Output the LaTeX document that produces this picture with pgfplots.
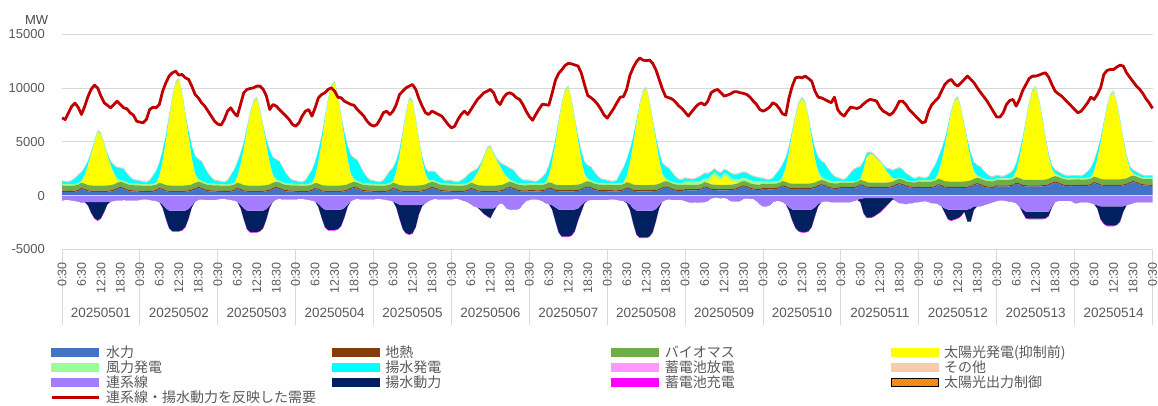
\documentclass[border=0pt]{standalone}
\usepackage{pgfplots}
\pgfplotsset{compat=1.18}
\usepackage{pgfplotstable}
\usepackage{graphicx}
\usepackage{fontspec}
\setmainfont{Liberation Sans}
\newfontfamily\jp{Noto Sans CJK JP}
\usetikzlibrary{patterns}

\definecolor{chy}{HTML}{4472C4}
\definecolor{cge}{HTML}{843C0C}
\definecolor{cbi}{HTML}{70AD47}
\definecolor{cso}{HTML}{FFFF00}
\definecolor{cwi}{HTML}{99FF99}
\definecolor{cpu}{HTML}{00FFFF}
\definecolor{cba}{HTML}{FF99FF}
\definecolor{cot}{HTML}{F8CBAD}
\definecolor{cti}{HTML}{A47DFF}
\definecolor{cus}{HTML}{002060}
\definecolor{cch}{HTML}{FF00FF}
\definecolor{ccu}{HTML}{FFA020}
\definecolor{ccu2}{HTML}{F06000}
\definecolor{cde}{HTML}{C00000}
\definecolor{gridc}{HTML}{D9D9D9}
\definecolor{tickc}{HTML}{595959}

\pgfplotstableread{
hy ge bi so wi pu ot ti us ch
350 110 480 0 150 250 100 -450 0 0
340 110 480 0 150 180 100 -400 0 0
330 110 480 0 150 150 100 -400 0 0
330 110 480 0 150 300 100 -450 0 0
350 110 480 0 150 480 100 -500 0 0
420 110 480 0 150 720 100 -550 0 0
600 110 480 0 150 800 100 -650 0 0
520 110 480 700 150 640 100 -600 0 0
380 110 480 1700 150 360 100 -600 -300 -50
350 110 480 2800 150 160 100 -600 -1000 -60
340 110 480 3900 150 80 100 -600 -1500 -60
340 110 480 4900 150 30 100 -600 -1700 -60
340 110 480 4700 150 20 100 -600 -1500 -60
340 110 480 3700 150 40 100 -600 -900 -60
350 110 480 2700 150 100 100 -600 -200 -40
380 110 480 1700 150 330 100 -550 0 0
450 110 480 900 150 720 100 -500 0 0
600 110 480 250 150 990 100 -450 0 0
700 110 480 0 150 1100 100 -450 0 0
620 110 480 0 150 1100 100 -400 0 0
480 110 480 0 150 820 100 -450 0 0
400 110 480 0 150 550 100 -450 0 0
370 110 480 0 150 330 100 -450 0 0
360 110 480 0 150 300 100 -450 0 0
350 110 480 0 150 250 100 -400 0 0
340 110 480 0 150 180 100 -350 0 0
330 110 480 0 150 150 100 -350 0 0
330 110 480 0 150 300 100 -400 0 0
350 110 480 0 150 720 100 -450 0 0
420 110 480 0 150 1080 100 -500 0 0
600 110 480 490 150 1200 100 -600 0 0
520 110 480 1960 150 960 100 -840 -290 -30
380 110 480 3920 150 540 100 -1190 -950 -60
350 110 480 6080 150 240 100 -1400 -1620 -60
340 110 480 8040 150 80 100 -1400 -1900 -60
340 110 480 9410 150 30 100 -1400 -1900 -60
340 110 480 9800 150 20 100 -1400 -1900 -60
340 110 480 8430 150 40 100 -1400 -1810 -60
350 110 480 6470 150 100 100 -1400 -1520 -60
380 110 480 4310 150 540 100 -1260 -860 -60
450 110 480 2250 150 1170 100 -910 -190 -30
600 110 480 690 150 1620 100 -560 0 0
700 110 480 100 150 1800 100 -400 0 0
620 110 480 0 150 1800 100 -350 0 0
480 110 480 0 150 1350 100 -400 0 0
400 110 480 0 150 900 100 -400 0 0
370 110 480 0 150 540 100 -400 0 0
360 110 480 0 150 300 100 -400 0 0
350 110 480 0 150 250 100 -350 0 0
340 110 480 0 150 180 100 -300 0 0
330 110 480 0 150 150 100 -300 0 0
330 110 480 0 150 300 100 -350 0 0
350 110 480 0 150 780 100 -400 0 0
420 110 480 0 150 1170 100 -450 0 0
600 110 480 400 150 1300 100 -550 0 0
520 110 480 1600 150 1040 100 -840 -300 -30
380 110 480 3200 150 590 100 -1190 -1000 -60
350 110 480 4960 150 260 100 -1400 -1700 -60
340 110 480 6560 150 80 100 -1400 -2000 -60
340 110 480 7680 150 30 100 -1400 -2000 -60
340 110 480 8000 150 20 100 -1400 -2000 -60
340 110 480 6880 150 40 100 -1400 -1900 -60
350 110 480 5280 150 100 100 -1400 -1600 -60
380 110 480 3520 150 540 100 -1260 -900 -60
450 110 480 1840 150 1170 100 -910 -200 -30
600 110 480 560 150 1620 100 -560 0 0
700 110 480 80 150 1800 100 -350 0 0
620 110 480 0 150 1800 100 -300 0 0
480 110 480 0 150 1350 100 -350 0 0
400 110 480 0 150 900 100 -350 0 0
370 110 480 0 150 540 100 -350 0 0
360 110 480 0 150 300 100 -350 0 0
350 110 480 0 150 250 100 -350 0 0
340 110 480 0 150 180 100 -300 0 0
330 110 480 0 150 150 100 -300 0 0
330 110 480 0 150 300 100 -350 0 0
350 110 480 0 150 780 100 -400 0 0
420 110 480 0 150 1170 100 -450 0 0
600 110 480 480 150 1300 100 -550 0 0
520 110 480 1900 150 1040 100 -780 -290 -30
380 110 480 3800 150 590 100 -1100 -950 -60
350 110 480 5890 150 260 100 -1300 -1620 -60
340 110 480 7790 150 80 100 -1300 -1900 -60
340 110 480 9120 150 30 100 -1300 -1900 -60
340 110 480 9500 150 20 100 -1300 -1900 -60
340 110 480 8170 150 40 100 -1300 -1810 -60
350 110 480 6270 150 100 100 -1300 -1520 -60
380 110 480 4180 150 570 100 -1170 -860 -60
450 110 480 2190 150 1240 100 -850 -190 -30
600 110 480 670 150 1710 100 -520 0 0
700 110 480 100 150 1900 100 -350 0 0
620 110 480 0 150 1900 100 -300 0 0
480 110 480 0 150 1430 100 -350 0 0
400 110 480 0 150 950 100 -350 0 0
370 110 480 0 150 570 100 -350 0 0
360 110 480 0 150 300 100 -350 0 0
350 110 480 0 150 250 100 -350 0 0
340 110 480 0 150 180 100 -300 0 0
330 110 480 0 150 150 100 -300 0 0
330 110 480 0 150 300 100 -350 0 0
350 110 480 0 150 720 100 -400 0 0
420 110 480 0 150 1080 100 -450 0 0
600 110 480 0 150 1200 100 -550 0 0
520 110 480 1000 150 960 100 -700 -400 -30
380 110 480 2600 150 540 100 -850 -1300 -60
350 110 480 4600 150 240 100 -900 -2200 -60
340 110 480 6500 150 80 100 -900 -2600 -60
340 110 480 8000 150 30 100 -900 -2700 -60
340 110 480 7700 150 20 100 -900 -2600 -60
340 110 480 6000 150 40 100 -900 -2000 -60
350 110 480 4000 150 100 100 -900 -800 -60
380 110 480 2200 150 240 100 -850 -100 -30
450 110 480 800 150 520 100 -700 0 0
600 110 480 100 150 720 100 -500 0 0
700 110 480 0 150 800 100 -350 0 0
620 110 480 0 150 800 100 -300 0 0
480 110 480 0 150 600 100 -350 0 0
400 110 480 0 150 400 100 -350 0 0
370 110 480 0 150 240 100 -350 0 0
360 110 480 0 150 300 100 -350 0 0
350 110 480 0 150 250 100 -350 0 0
340 110 480 0 150 180 100 -300 0 0
330 110 480 0 150 150 100 -300 0 0
330 110 480 0 150 300 100 -400 0 0
350 110 480 0 150 480 100 -500 0 0
420 110 480 0 150 720 100 -600 0 0
600 110 480 0 150 800 100 -800 0 0
520 110 480 400 150 640 100 -1000 0 0
380 110 480 1000 150 360 100 -1100 0 0
350 110 480 1700 150 160 100 -1200 -200 0
340 110 480 2500 150 80 100 -1200 -500 -40
340 110 480 3300 150 30 100 -1200 -700 -40
340 110 480 3500 150 20 100 -1200 -900 -40
340 110 480 2800 150 40 100 -1200 -300 0
350 110 480 2200 150 100 100 -1000 0 0
380 110 480 1600 150 300 100 -700 0 0
450 110 480 1000 150 650 100 -800 0 0
600 110 480 450 150 900 100 -1200 0 0
700 110 480 50 150 1000 100 -1300 0 0
620 110 480 0 150 1000 100 -1300 0 0
480 110 480 0 150 750 100 -1300 0 0
400 110 480 0 150 500 100 -1200 0 0
370 110 480 0 150 300 100 -800 0 0
360 110 480 0 150 300 100 -500 0 0
400 110 480 0 150 250 100 -400 0 0
390 110 480 0 150 180 100 -350 0 0
380 110 480 0 150 150 100 -350 0 0
380 110 480 0 150 300 100 -400 0 0
400 110 480 0 150 540 100 -500 0 0
470 110 480 0 150 810 100 -700 0 0
650 110 480 450 150 900 100 -800 0 0
570 110 480 1800 150 720 100 -900 -380 -30
430 110 480 3600 150 410 100 -1100 -1250 -60
400 110 480 5580 150 180 100 -1300 -2100 -60
390 110 480 7380 150 80 100 -1300 -2500 -60
390 110 480 8640 150 30 100 -1300 -2500 -60
390 110 480 9000 150 20 100 -1300 -2500 -60
390 110 480 7740 150 40 100 -1300 -2400 -60
400 110 480 5940 150 100 100 -1300 -2000 -60
430 110 480 3960 150 360 100 -1200 -1100 -60
500 110 480 2070 150 780 100 -900 -600 -60
650 110 480 630 150 1080 100 -600 -100 -30
750 110 480 90 150 1200 100 -450 0 0
670 110 480 0 150 1200 100 -400 0 0
530 110 480 0 150 900 100 -400 0 0
450 110 480 0 150 600 100 -400 0 0
420 110 480 0 150 360 100 -400 0 0
410 110 480 0 150 300 100 -400 0 0
400 110 480 0 150 250 100 -400 0 0
390 110 480 0 150 180 100 -350 0 0
380 110 480 0 150 150 100 -350 0 0
380 110 480 0 150 300 100 -400 0 0
400 110 480 0 150 900 100 -450 0 0
470 110 480 0 150 1350 100 -500 0 0
650 110 480 450 150 1500 100 -600 -100 0
570 110 480 1780 150 1200 100 -840 -500 -30
430 110 480 3560 150 680 100 -1190 -1400 -60
400 110 480 5520 150 300 100 -1400 -2200 -60
390 110 480 7300 150 80 100 -1400 -2500 -60
390 110 480 8540 150 30 100 -1400 -2500 -60
390 110 480 8900 150 20 100 -1400 -2500 -60
390 110 480 7650 150 40 100 -1400 -2400 -60
400 110 480 5870 150 100 100 -1400 -2000 -60
430 110 480 3920 150 330 100 -1260 -1100 -60
500 110 480 2050 150 720 100 -910 -250 -30
650 110 480 620 150 990 100 -560 0 0
750 110 480 90 150 1100 100 -400 0 0
670 110 480 0 150 1100 100 -350 0 0
530 110 480 0 150 830 100 -400 0 0
450 110 480 0 150 550 100 -400 0 0
420 110 480 0 150 330 100 -400 0 0
410 110 480 0 150 300 100 -400 0 0
500 110 400 0 300 300 100 -500 0 0
490 110 400 0 300 250 100 -600 0 0
480 110 400 0 300 200 100 -650 0 0
480 110 400 0 300 250 100 -600 0 0
500 110 400 0 300 350 100 -650 0 0
570 110 400 0 300 450 100 -600 0 0
750 110 400 0 300 500 100 -600 0 0
670 110 400 100 300 450 100 -500 0 0
530 110 400 500 300 350 100 -250 0 0
500 110 400 900 300 250 100 -200 0 0
490 110 400 600 300 300 100 -200 0 0
490 110 400 400 300 400 100 -250 0 0
490 110 400 800 300 300 100 -200 0 0
490 110 400 700 300 300 100 -300 0 0
500 110 400 400 300 350 100 -500 0 0
530 110 400 200 300 400 100 -550 0 0
600 110 400 100 300 450 100 -550 0 0
750 110 400 0 300 500 100 -500 0 0
850 110 400 0 300 500 100 -300 0 0
770 110 400 0 300 500 100 -250 0 0
630 110 400 0 300 450 100 -300 0 0
550 110 400 0 300 400 100 -300 0 0
520 110 400 0 300 350 100 -500 0 0
510 110 400 0 300 300 100 -800 0 0
600 110 400 0 200 250 100 -1000 0 0
590 110 400 0 200 180 100 -1000 0 0
580 110 400 0 200 150 100 -900 0 0
580 110 400 0 200 300 100 -600 0 0
600 110 400 0 200 660 100 -500 0 0
670 110 400 0 200 990 100 -500 0 0
850 110 400 200 200 1100 100 -600 0 0
770 110 400 1150 200 880 100 -800 0 0
630 110 400 2700 200 500 100 -1100 -300 -30
600 110 400 4500 200 220 100 -1300 -1000 -60
590 110 400 6100 200 80 100 -1300 -1700 -60
590 110 400 7300 200 30 100 -1300 -2000 -60
590 110 400 7800 200 20 100 -1300 -2100 -60
590 110 400 7300 200 40 100 -1300 -2100 -60
600 110 400 5900 200 100 100 -1300 -2000 -60
630 110 400 3900 200 420 100 -1300 -1600 -60
700 110 400 2000 200 910 100 -1100 -800 -60
850 110 400 700 200 1260 100 -800 -200 -30
950 110 400 100 200 1400 100 -600 0 0
870 110 400 0 200 1400 100 -550 0 0
730 110 400 0 200 1050 100 -550 0 0
650 110 400 0 200 700 100 -600 0 0
620 110 400 0 200 420 100 -600 0 0
610 110 400 0 200 300 100 -600 0 0
700 110 400 0 100 200 100 -600 0 0
690 110 400 0 100 150 100 -600 0 0
680 110 400 0 100 400 100 -600 0 0
680 110 400 0 100 800 100 -600 0 0
700 110 400 0 100 1100 100 -500 0 0
770 110 400 0 100 1200 100 -400 0 0
950 110 400 0 100 1100 100 -300 -300 -30
870 110 400 1000 100 700 100 -250 -1400 -60
730 110 400 2300 100 300 100 -250 -1800 -60
700 110 400 2600 100 100 100 -250 -1800 -60
690 110 400 2500 100 50 100 -250 -1700 -60
690 110 400 2200 100 30 100 -250 -1500 -60
690 110 400 1900 100 30 100 -250 -1300 -60
690 110 400 1500 100 50 100 -250 -1000 -60
700 110 400 1000 100 200 100 -250 -700 -60
730 110 400 600 100 500 100 -250 -400 -30
800 110 400 200 100 700 100 -250 -100 0
950 110 400 0 100 900 100 -500 0 0
1050 110 400 0 100 900 100 -700 0 0
970 110 400 0 100 800 100 -700 0 0
830 110 400 0 100 600 100 -800 0 0
750 110 400 0 100 500 100 -700 0 0
720 110 400 0 100 300 100 -700 0 0
710 110 400 0 100 250 100 -600 0 0
700 110 500 0 150 250 100 -600 0 0
690 110 500 0 150 180 100 -550 0 0
680 110 500 0 150 150 100 -500 0 0
680 110 500 0 150 300 100 -600 0 0
700 110 500 0 150 840 100 -700 0 0
770 110 500 0 150 1260 100 -700 0 0
950 110 500 390 150 1400 100 -800 0 0
870 110 500 1540 150 1120 100 -1000 0 0
730 110 500 3080 150 630 100 -1200 -400 -30
700 110 500 4770 150 280 100 -1300 -900 -60
690 110 500 6310 150 80 100 -1300 -1000 -60
690 110 500 7390 150 30 100 -1300 -900 -60
690 110 500 7700 150 20 100 -1300 -800 -60
690 110 500 6620 150 40 100 -1300 -600 -60
700 110 500 5080 150 100 100 -1300 -200 -30
730 110 500 3390 150 270 100 -1300 -1100 -60
800 110 500 1770 150 590 100 -1200 -1200 -60
950 110 500 540 150 810 100 -1000 -300 -30
1050 110 500 80 150 900 100 -1000 0 0
970 110 500 0 150 900 100 -1000 0 0
830 110 500 0 150 680 100 -900 0 0
750 110 500 0 150 450 100 -800 0 0
720 110 500 0 150 270 100 -700 0 0
710 110 500 0 150 250 100 -600 0 0
850 110 500 0 150 250 100 -500 0 0
840 110 500 0 150 180 100 -450 0 0
830 110 500 0 150 150 100 -450 0 0
830 110 500 0 150 300 100 -500 0 0
850 110 500 0 150 420 100 -550 0 0
920 110 500 0 150 630 100 -600 0 0
1100 110 500 430 150 700 100 -700 0 0
1020 110 500 1700 150 560 100 -1000 0 0
880 110 500 3400 150 320 100 -1300 -300 -30
850 110 500 5270 150 140 100 -1500 -600 -60
840 110 500 6970 150 80 100 -1500 -650 -60
840 110 500 8160 150 30 100 -1500 -650 -60
840 110 500 8500 150 20 100 -1500 -650 -60
840 110 500 7310 150 40 100 -1500 -650 -60
850 110 500 5610 150 100 100 -1500 -650 -60
880 110 500 3740 150 100 100 -1500 -600 -60
950 110 500 1960 150 200 100 -1500 -400 -30
1100 110 500 600 150 300 100 -1000 -100 0
1200 110 500 90 150 300 100 -600 0 0
1120 110 500 0 150 300 100 -500 0 0
980 110 500 0 150 250 100 -500 0 0
900 110 500 0 150 200 100 -500 0 0
870 110 500 0 150 150 100 -500 0 0
860 110 500 0 150 200 100 -500 0 0
900 110 500 0 150 150 100 -700 0 0
890 110 500 0 150 150 100 -700 0 0
880 110 500 0 150 150 100 -600 0 0
880 110 500 0 150 300 100 -600 0 0
900 110 500 0 150 540 100 -600 0 0
970 110 500 0 150 810 100 -700 0 0
1150 110 500 400 150 900 100 -800 0 0
1070 110 500 1600 150 720 100 -900 -300 -30
930 110 500 3200 150 410 100 -1000 -1200 -60
900 110 500 4960 150 180 100 -1000 -1600 -60
890 110 500 6560 150 80 100 -1000 -1800 -60
890 110 500 7680 150 30 100 -1000 -1800 -60
890 110 500 8000 150 20 100 -1000 -1800 -60
890 110 500 6880 150 40 100 -1000 -1700 -60
900 110 500 5280 150 100 100 -1000 -1400 -60
930 110 500 3520 150 80 100 -1000 -500 -30
1000 110 500 1840 150 150 100 -900 0 0
1150 110 500 560 150 200 100 -800 0 0
1250 110 500 80 150 250 100 -700 0 0
1170 110 500 0 150 250 100 -600 0 0
1030 110 500 0 150 200 100 -600 0 0
950 110 500 0 150 150 100 -600 0 0
920 110 500 0 150 100 100 -600 0 0
910 110 500 0 150 150 100 -600 0 0
910 110 500 0 150 150 100 -600 0 0
}\data

\pgfplotstableread[row sep=\\]{d\\
7230\\7075\\7700\\8300\\8600\\8200\\7540\\8300\\9200\\9900\\10270\\10000\\9250\\8630\\8400\\8160\\8470\\8780\\8470\\8160\\8070\\7700\\7480\\6920\\
6830\\6770\\7075\\8000\\8220\\8160\\8470\\9700\\10490\\11110\\11420\\11570\\11200\\11260\\10950\\10800\\10180\\9400\\9090\\8630\\8320\\7850\\7390\\6920\\
6650\\6550\\7075\\7850\\8160\\7700\\7390\\8470\\9560\\9870\\9960\\10020\\10180\\10180\\9870\\9250\\8000\\8470\\8320\\8000\\7700\\7390\\7075\\6610\\
6450\\6760\\7390\\7850\\8000\\7390\\8160\\9090\\9400\\9560\\9870\\10020\\9710\\9150\\9090\\8780\\8630\\8470\\8400\\8000\\7700\\7390\\6920\\6610\\
6450\\6600\\7075\\7700\\7850\\7540\\7850\\8470\\9400\\9710\\10020\\10180\\10330\\9870\\9000\\8300\\7700\\7540\\7850\\7700\\7540\\7390\\7000\\6600\\
6300\\6450\\7075\\7540\\7850\\7540\\8000\\8470\\8940\\9250\\9560\\9710\\9870\\9560\\8780\\8470\\9090\\9460\\9560\\9400\\9090\\8940\\8470\\7850\\
7350\\7000\\7550\\8050\\8500\\8450\\8400\\9500\\10700\\11350\\11700\\12100\\12300\\12250\\12150\\12050\\11400\\10300\\9300\\9100\\8850\\8500\\8050\\7500\\
7200\\7650\\8100\\8650\\9150\\9200\\9900\\11200\\11900\\12450\\12800\\12600\\12550\\12600\\12300\\11700\\10800\\9900\\9200\\9100\\8980\\8700\\8350\\8100\\
7750\\7390\\7790\\8160\\8470\\8630\\8400\\8780\\9560\\9770\\9870\\9560\\9250\\9340\\9460\\9650\\9650\\9560\\9500\\9400\\9150\\8780\\8470\\8000\\
7850\\8000\\8220\\8630\\8470\\8100\\7600\\7480\\9090\\10180\\10950\\11020\\10950\\11110\\10890\\10640\\9710\\9150\\9090\\8940\\8780\\8630\\9150\\8000\\
7600\\7390\\7850\\8220\\8160\\8100\\8250\\8530\\8780\\8940\\8880\\8780\\8220\\7850\\7700\\7480\\7700\\8160\\8780\\8780\\8470\\8000\\7700\\7390\\
7075\\6770\\6860\\7850\\8470\\8780\\9090\\9710\\10330\\10640\\10800\\10390\\10180\\10490\\10800\\11110\\10800\\10490\\10020\\9600\\9200\\8800\\8300\\7800\\
7300\\7300\\7700\\8470\\8840\\8940\\8320\\8940\\9770\\10330\\10890\\11110\\11110\\11200\\11330\\11420\\11020\\10330\\9710\\9460\\9250\\8940\\8630\\8320\\
8000\\7700\\7850\\8220\\8630\\9150\\8940\\9400\\10020\\11260\\11640\\11730\\11730\\11950\\12130\\12040\\11420\\11000\\10600\\10200\\9900\\9500\\9000\\8600\\
8100\\
}\demand

\pgfplotsset{
  base/.style={at={(62pt,155.7pt)}, anchor=south west, width=1090.5pt, height=215pt,
    scale only axis, xmin=0, xmax=336, ymin=-5000, ymax=15000,
    scaled ticks=false, scaled y ticks=false, scaled x ticks=false},
  demandleg/.style={legend image code/.code={\draw[cde, line width=2.8pt] (0pt,0pt) -- (47pt,0pt);}}
}
\newcommand\tlab[1]{\rotatebox{90}{#1}}
\newcommand\lgt[1]{\makebox[232pt][l]{\hspace{6pt}\color{tickc}\jp\fontsize{14}{16}\selectfont #1}}
\newcommand\sw[1]{\addlegendimage{legend image code/.code={\fill[#1] (0pt,-3.75pt) rectangle (47pt,3.75pt);}}}

\begin{document}
\begin{tikzpicture}
\path[use as bounding box] (0,0) rectangle (1158pt,405pt);

\begin{axis}[base,
  axis line style={draw=none},
  ymajorgrids, grid style={draw=gridc, line width=0.9pt},
  ytick={-5000,0,5000,10000,15000},
  yticklabels={-5000,0,5000,10000,15000},
  yticklabel style={anchor=east, inner sep=0pt, xshift=-17pt, font=\fontsize{13}{15}\selectfont, text=tickc},
  xtick={0,6,...,336},
  xticklabels={\tlab{0:30},\tlab{6:30},\tlab{12:30},\tlab{18:30},\tlab{0:30},\tlab{6:30},\tlab{12:30},\tlab{18:30},\tlab{0:30},\tlab{6:30},\tlab{12:30},\tlab{18:30},\tlab{0:30},\tlab{6:30},\tlab{12:30},\tlab{18:30},\tlab{0:30},\tlab{6:30},\tlab{12:30},\tlab{18:30},\tlab{0:30},\tlab{6:30},\tlab{12:30},\tlab{18:30},\tlab{0:30},\tlab{6:30},\tlab{12:30},\tlab{18:30},\tlab{0:30},\tlab{6:30},\tlab{12:30},\tlab{18:30},\tlab{0:30},\tlab{6:30},\tlab{12:30},\tlab{18:30},\tlab{0:30},\tlab{6:30},\tlab{12:30},\tlab{18:30},\tlab{0:30},\tlab{6:30},\tlab{12:30},\tlab{18:30},\tlab{0:30},\tlab{6:30},\tlab{12:30},\tlab{18:30},\tlab{0:30},\tlab{6:30},\tlab{12:30},\tlab{18:30},\tlab{0:30},\tlab{6:30},\tlab{12:30},\tlab{18:30},\tlab{0:30}},
  xticklabel style={anchor=north, inner sep=0pt, yshift=-12.7pt, font=\fontsize{12.5}{14}\selectfont, text=tickc},
  minor xtick={0,24,...,336},
  major tick length=0pt, minor tick length=76pt, tick align=outside,
  tick pos=left,
  minor tick style={draw=gridc, line width=0.9pt},
  extra x ticks={12,36,...,324},
  extra x tick labels={20250501,20250502,20250503,20250504,20250505,20250506,20250507,20250508,20250509,20250510,20250511,20250512,20250513,20250514},
  extra x tick style={major tick length=0pt, xticklabel style={yshift=-46pt, font=\fontsize{13.5}{15}\selectfont}},
  stack plots=y,
]
\addplot[fill=chy, draw=none] table[x expr=\coordindex, y=hy]{\data} \closedcycle;
\addplot[fill=cge, draw=none] table[x expr=\coordindex, y=ge]{\data} \closedcycle;
\addplot[fill=cbi, draw=none] table[x expr=\coordindex, y=bi]{\data} \closedcycle;
\addplot[fill=cso, draw=none] table[x expr=\coordindex, y=so]{\data} \closedcycle;
\addplot[fill=cwi, draw=none] table[x expr=\coordindex, y=wi]{\data} \closedcycle;
\addplot[fill=cpu, draw=none] table[x expr=\coordindex, y=pu]{\data} \closedcycle;
\addplot[fill=cot, draw=none] table[x expr=\coordindex, y=ot]{\data} \closedcycle;
\end{axis}

\begin{axis}[base, hide axis, stack plots=y]
\addplot[fill=cti, draw=none] table[x expr=\coordindex, y=ti]{\data} \closedcycle;
\addplot[fill=cus, draw=none] table[x expr=\coordindex, y=us]{\data} \closedcycle;
\addplot[fill=cch, draw=none] table[x expr=\coordindex, y=ch]{\data} \closedcycle;
\end{axis}

\begin{axis}[base, hide axis, clip=false,
  legend columns=4, legend cell align=left,
  legend style={draw=none, fill=none, inner sep=0pt, column sep=0pt, row sep=0pt,
    nodes={inner sep=0pt, text height=12.8pt, text depth=2.2pt, text=tickc},
    at={(0,0)}, anchor=north west, xshift=-12pt, yshift=-95.2pt}]
\sw{chy}\addlegendentry{\lgt{水力}}
\sw{cge}\addlegendentry{\lgt{地熱}}
\sw{cbi}\addlegendentry{\lgt{バイオマス}}
\sw{cso}\addlegendentry{\lgt{太陽光発電(抑制前)}}
\sw{cwi}\addlegendentry{\lgt{風力発電}}
\sw{cpu}\addlegendentry{\lgt{揚水発電}}
\sw{cba}\addlegendentry{\lgt{蓄電池放電}}
\sw{cot}\addlegendentry{\lgt{その他}}
\sw{cti}\addlegendentry{\lgt{連系線}}
\sw{cus}\addlegendentry{\lgt{揚水動力}}
\sw{cch}\addlegendentry{\lgt{蓄電池充電}}
\addlegendimage{legend image code/.code={\fill[ccu] (0pt,-3.75pt) rectangle (47pt,3.75pt); \fill[pattern=north east lines, pattern color=ccu2] (0pt,-3.75pt) rectangle (47pt,3.75pt);}}
\addlegendentry{\lgt{太陽光出力制御}}
\addplot[forget plot, draw=gridc, line width=1.2pt] coordinates {(0,0) (336,0)};
\addplot[cde, line width=2.8pt, line join=round, demandleg] table[x expr=\coordindex, y=d]{\demand};
\addlegendentry{\lgt{連系線・揚水動力を反映した需要}}
\node[font=\fontsize{13}{15}\selectfont, text=tickc!80!black, inner sep=0pt] at (rel axis cs:0,1) [xshift=-25.3pt, yshift=14.3pt] {MW};
\end{axis}
\end{tikzpicture}
\end{document}
